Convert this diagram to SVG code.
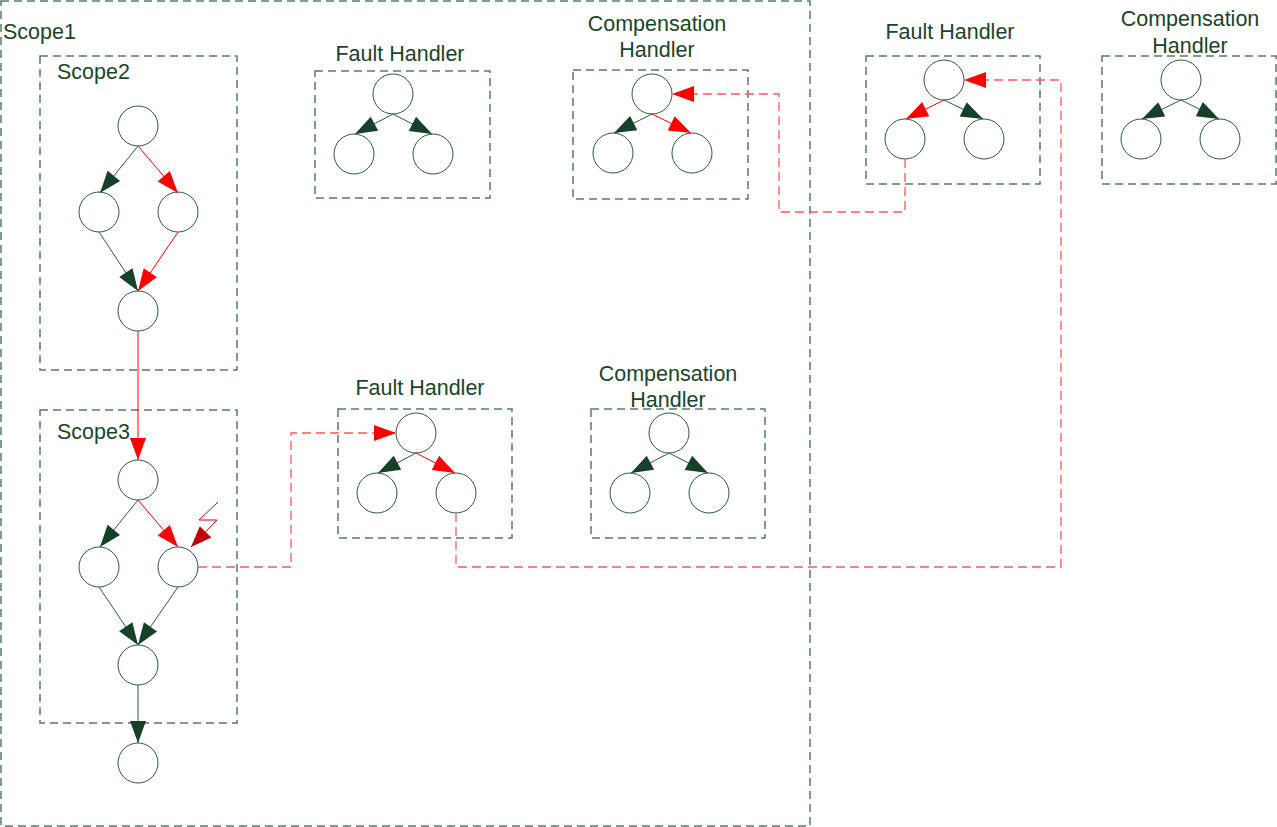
<svg xmlns="http://www.w3.org/2000/svg" width="1277" height="827" viewBox="0 0 1277 827">
<style>
.box{fill:none;stroke:#587a68;stroke-width:1.5;stroke-dasharray:8,5}
.c{fill:#fff;stroke:#2f5a3f;stroke-width:1}
.t{font-family:"Liberation Sans",Arial,sans-serif;font-size:21.5px;fill:#1a4529}
.m{text-anchor:middle}
.g{stroke:#2f5a3f;stroke-width:1;fill:none;marker-end:url(#ag)}
.r{stroke:#ff0000;stroke-width:1;fill:none;marker-end:url(#ar)}
.d{stroke:#ff5a5a;stroke-width:1.3;fill:none;stroke-dasharray:9,5;marker-end:url(#ar)}
</style>
<defs>
<marker id="ag" markerUnits="userSpaceOnUse" markerWidth="23" markerHeight="16" refX="22" refY="8" orient="auto" overflow="visible"><path d="M0,0 L22,8 L0,16 Z" fill="#17402a" stroke="none"/></marker>
<marker id="ar" markerUnits="userSpaceOnUse" markerWidth="23" markerHeight="16" refX="22" refY="8" orient="auto" overflow="visible"><path d="M0,0 L22,8 L0,16 Z" fill="#ff0000" stroke="none"/></marker>
<marker id="ad" markerUnits="userSpaceOnUse" markerWidth="23" markerHeight="16" refX="21" refY="8" orient="auto" overflow="visible"><path d="M0,0 L21,8 L0,16 Z" fill="#c00000" stroke="none"/></marker>
</defs>
<rect width="1277" height="827" fill="#fff"/>

<g id="scope1">
<rect class="box" x="1" y="1" width="809" height="825"/>
<text class="t" x="3" y="39">Scope1</text>
</g>

<g id="scope2">
<rect class="box" x="40" y="56" width="197" height="314"/>
<text class="t" x="57" y="79">Scope2</text>
<circle class="c" cx="138" cy="126" r="20"/>
<circle class="c" cx="99" cy="212" r="20"/>
<circle class="c" cx="178" cy="212" r="20"/>
<circle class="c" cx="138" cy="311" r="20"/>
</g>

<g id="scope3">
<rect class="box" x="40" y="410" width="197" height="313"/>
<text class="t" x="57" y="439">Scope3</text>
<circle class="c" cx="138" cy="480" r="20"/>
<circle class="c" cx="99" cy="567" r="20"/>
<circle class="c" cx="178" cy="567" r="20"/>
<circle class="c" cx="138" cy="665" r="20"/>
</g>

<g id="end-node">
<circle class="c" cx="138" cy="763" r="20"/>
</g>

<g id="fault-handler-1">
<rect class="box" x="315" y="71" width="175" height="127"/>
<text class="t m" x="400" y="61">Fault Handler</text>
<circle class="c" cx="393" cy="94" r="20"/>
<circle class="c" cx="354" cy="154" r="20"/>
<circle class="c" cx="433" cy="154" r="20"/>
</g>

<g id="comp-handler-1">
<rect class="box" x="573" y="70" width="175" height="129"/>
<text class="t m" x="657" y="31">Compensation</text>
<text class="t m" x="657" y="57">Handler</text>
<circle class="c" cx="652" cy="94" r="20"/>
<circle class="c" cx="613" cy="153" r="20"/>
<circle class="c" cx="692" cy="153" r="20"/>
</g>

<g id="fault-handler-2">
<rect class="box" x="866" y="56" width="174" height="128"/>
<text class="t m" x="950" y="39">Fault Handler</text>
<circle class="c" cx="944" cy="80" r="20"/>
<circle class="c" cx="905" cy="139" r="20"/>
<circle class="c" cx="984" cy="139" r="20"/>
</g>

<g id="comp-handler-2">
<rect class="box" x="1102" y="56" width="174" height="128"/>
<text class="t m" x="1190" y="26">Compensation</text>
<text class="t m" x="1190" y="53">Handler</text>
<circle class="c" cx="1181" cy="80" r="20"/>
<circle class="c" cx="1141" cy="139" r="20"/>
<circle class="c" cx="1220" cy="139" r="20"/>
</g>

<g id="fault-handler-3">
<rect class="box" x="338" y="409" width="174" height="129"/>
<text class="t m" x="420" y="395">Fault Handler</text>
<circle class="c" cx="416" cy="433" r="20"/>
<circle class="c" cx="377" cy="493" r="20"/>
<circle class="c" cx="456" cy="493" r="20"/>
</g>

<g id="comp-handler-3">
<rect class="box" x="591" y="409" width="174" height="129"/>
<text class="t m" x="668" y="381">Compensation</text>
<text class="t m" x="668" y="407">Handler</text>
<circle class="c" cx="669" cy="433" r="20"/>
<circle class="c" cx="630" cy="493" r="20"/>
<circle class="c" cx="709" cy="493" r="20"/>
</g>

<g id="connectors">
<path class="g" d="M138,146 L100,193"/>
<path class="r" d="M138,146 L178,193"/>
<path class="g" d="M99,232 L138,291"/>
<path class="r" d="M178,232 L138,291"/>
<path class="r" d="M138,331 L138,460"/>
<path class="g" d="M138,500 L100,547"/>
<path class="r" d="M138,500 L178,547"/>
<path class="g" d="M99,587 L138,645"/>
<path class="g" d="M178,587 L138,645"/>
<path class="g" d="M138,685 L138,743"/>
<path d="M218,502 L199,520 L217,520 L191,547" fill="none" stroke="#d00000" stroke-width="1" marker-end="url(#ad)"/>
<path class="g" d="M393,114 L355,134"/>
<path class="g" d="M393,114 L432,134"/>
<path class="g" d="M652,114 L614,133"/>
<path class="r" d="M652,114 L691,133"/>
<path class="r" d="M944,100 L906,119"/>
<path class="g" d="M944,100 L983,119"/>
<path class="g" d="M1181,100 L1142,119"/>
<path class="g" d="M1181,100 L1219,119"/>
<path class="g" d="M416,453 L378,473"/>
<path class="r" d="M416,453 L455,473"/>
<path class="g" d="M669,453 L631,473"/>
<path class="g" d="M669,453 L708,473"/>
<path class="d" d="M198,567 H291 V433 H396"/>
<path class="d" d="M456,513 V567 H1061 V80 H964"/>
<path class="d" d="M905,159 V212 H779 V94 H672"/>
</g>
</svg>
